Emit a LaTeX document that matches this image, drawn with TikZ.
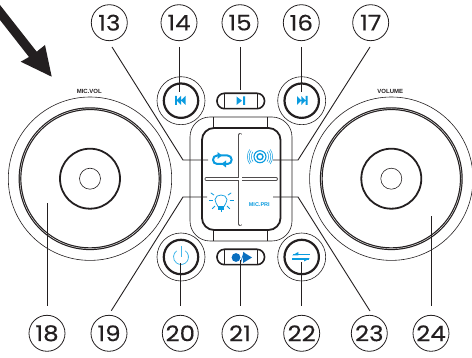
\documentclass[tikz,border=0pt]{standalone}
\usepackage{fontspec}
\setmainfont{Poppins}[FakeStretch=1.14,FakeBold=0.25]
\newfontfamily\lblfont{Liberation Sans}
\definecolor{ink}{HTML}{231F20}
\definecolor{iblue}{HTML}{0A9BDF}
\definecolor{lblue}{HTML}{45B8EA}
\definecolor{dblue}{HTML}{0A6FBF}
\tikzset{
  bubble/.style={circle,draw=ink,line width=0.8pt,minimum size=36pt,inner sep=0pt,text=ink,font=\fontsize{21.5}{21.5}\selectfont},
  leader/.style={draw=ink,line width=0.9pt},
  thinl/.style={draw=ink,line width=0.6pt},
  thickl/.style={draw=ink,line width=1.8pt},
  dialname/.style={font=\lblfont\bfseries\fontsize{6}{6}\selectfont,text=ink,inner sep=0pt},
  blueicon/.style={fill=iblue,draw=none},
}
\newcommand{\dial}[2]{%
  \begin{scope}[shift={(#1,#2)}]
    \draw[thinl] (0,0) circle (81.7);
    \draw[draw=ink,line width=2.8pt] (0,0) circle (70);
    \draw[draw=white,line width=0.4pt] (0,0) circle (70);
    \draw[thickl] (0,0) circle (30);
    \draw[thinl] (0,0) circle (10.5);
  \end{scope}}
\newcommand{\smallbtn}[2]{%
  \draw[thinl] (#1,#2) circle (24);
  \draw[draw=ink,line width=2.2pt] (#1,#2) circle (17.2);}
\newcommand{\pill}[2]{%
  \draw[draw=ink,line width=1.6pt,rounded corners=7.5pt] (#1-23.5,#2-7.7) rectangle (#1+24,#2+7.7);
  \draw[thinl] (#1-16.5,#2-7.7) -- (#1-16.5,#2+7.7) (#1+16.5,#2-7.7) -- (#1+16.5,#2+7.7);}
\begin{document}
\begin{tikzpicture}[x=1pt,y=-1pt]
\useasboundingbox (0,0) rectangle (472,358);
% big arrow
\fill[ink] (0,5) -- (36.7,51.7) -- (45,45) -- (51.7,76.7) -- (20.7,61.7) -- (29,57) -- (0,20) -- cycle;
% dials
\dial{90}{178.7}
\dial{391.3}{178.7}
\node[dialname] (micvol) at (89.3,91.7) {MIC.VOL};
\node[dialname] (volume) at (390.3,91.7) {VOLUME};
% central pad
\draw[thinl,rounded corners=20pt] (190,117) rectangle (292,241);
\draw[thinl] (213,117) -- (213,128) (267,117) -- (267,128);
\draw[thinl] (213,230) -- (213,241) (267,230) -- (267,241);
\draw[draw=ink,line width=1.8pt,rounded corners=12pt,fill=white] (202,128) rectangle (280.5,230);
\draw[draw=ink!80,line width=4pt,line cap=round] (240.2,135) -- (240.2,224) (206.5,179) -- (276,179);
\draw[draw=white,line width=2.8pt,line cap=round] (240.2,135) -- (240.2,224) (206.5,179) -- (276,179);
% small buttons and pills
\smallbtn{181}{100.7}
\smallbtn{301.7}{100.7}
\smallbtn{181}{257}
\smallbtn{301.7}{257}
\pill{240.5}{101}
\pill{240.5}{257}
% icons
\fill[blueicon] (175,96) rectangle (176.8,105) (185.5,96) -- (185.5,105) -- (181,100.5) -- cycle (181,96) -- (181,105) -- (176.5,100.5) -- cycle;
\fill[blueicon] (297,96) -- (297,105) -- (301.3,100.5) -- cycle (301.3,96) -- (301.3,105) -- (305.6,100.5) -- cycle (305.6,96) rectangle (307.5,105);
\fill[blueicon] (236.5,96.5) -- (236.5,105) -- (242,100.7) -- cycle (243,96.5) rectangle (245,105);
\fill[dblue] (236,257.5) circle (4.4);
\draw[dblue,line width=0.7pt] (240.5,263) -- (244,252);
\fill[dblue] (243,252) -- (243,263) -- (252,257.5) -- cycle;
% repeat
\draw[iblue,line width=2pt,rounded corners=4.2pt] (218,155.5) -- (213,155.5) -- (213,164) -- (224,164);
\draw[iblue,line width=2pt,rounded corners=4.2pt] (226,164) -- (231.7,164) -- (231.7,155.5) -- (220,155.5);
\fill[blueicon] (217.5,152) -- (217.5,159) -- (222,155.5) -- cycle (226,160.5) -- (226,167.5) -- (221.5,164) -- cycle;
% speaker
\draw[iblue,line width=1.1pt] (260,156.7) circle (6);
\draw[iblue,line width=1.4pt] (260,156.7) circle (3);
\foreach \r in {8.6,10.8,12.6}{
  \draw[iblue,line width=0.5pt] (260,156.7) ++(-35:\r) arc[start angle=-35,end angle=35,radius=\r];
  \draw[iblue,line width=0.5pt] (260,156.7) ++(145:\r) arc[start angle=145,end angle=215,radius=\r];}
% bulb
\draw[iblue,line width=0.7pt] (218,206.5) .. controls (217.5,203.5) and (214.5,203) .. (215,199.5) .. controls (215.5,193.5) and (226.5,193.5) .. (227,199.5) .. controls (227.5,203) and (224.5,203.5) .. (224,206.5) -- cycle;
\fill[iblue] (218.2,206.5) rectangle (223.8,210);
\foreach \a in {0,45,90,135,180,-35,215}{
  \draw[iblue,line width=0.8pt] (221,200) ++(\a:8.5) -- ++(\a:4);}
\node[inner sep=0pt,text=iblue,font=\lblfont\bfseries\fontsize{5.5}{5.5}\selectfont] (micpri) at (259.3,205) {MIC.PRI};
% power
\draw[lblue,line width=0.8pt] (181,257) ++(-55:7.5) arc[start angle=-55,end angle=235,radius=7.5];
\draw[lblue,line width=0.8pt] (181,246) -- (181,257);
% swap
\fill[iblue] (293,254) rectangle (310,255.3);
\fill[iblue] (292.3,258.3) rectangle (309,259.6);
\fill[iblue] (292.3,255.3) -- (298.3,252) -- (298.3,255.3) -- cycle (310,258.3) -- (304,261.5) -- (304,258.3) -- cycle;
% bubbles
\foreach \n/\x/\y in {13/109.3/22.7,14/179/22.7,15/240/22.7,16/301.3/22.7,17/370.7/22.7,18/47/333.3,19/109/333.3,20/180.3/333.3,21/240/333.3,22/301.7/333.3,23/369.3/333.3,24/431/333.3}
  \node[bubble] (b\n) at (\x,\y) {\n};
% free ends
\coordinate (e13) at (208,160);
\coordinate (k13) at (183,160);
\coordinate (e14) at (179,92);
\coordinate (e15) at (240,90);
\coordinate (e16) at (301,92);
\coordinate (e17) at (273,160);
\coordinate (k17) at (298,160);
\coordinate (e18) at (47,203);
\coordinate (e19) at (207,197);
\coordinate (k19) at (183,197);
\coordinate (e20) at (180.5,263);
\coordinate (e21) at (240,260);
\coordinate (e22) at (301.5,262);
\coordinate (e23) at (273,197);
\coordinate (k23) at (298,197);
\coordinate (e24) at (431,215.7);
% leaders
\draw[leader] (112,47) -- (k13) -- (e13);
\draw[leader] (179,47) -- (e14);
\draw[leader] (240,47) -- (e15);
\draw[leader] (301,47) -- (e16);
\draw[leader] (370,47) -- (k17) -- (e17);
\draw[leader] (47,305.7) -- (e18);
\draw[leader] (111.3,310.7) -- (k19) -- (e19);
\draw[leader] (180.5,305.7) -- (e20);
\draw[leader] (240,305.7) -- (e21);
\draw[leader] (301.5,305.7) -- (e22);
\draw[leader] (370,311) -- (k23) -- (e23);
\draw[leader] (431,305.7) -- (e24);
\end{tikzpicture}
\end{document}
